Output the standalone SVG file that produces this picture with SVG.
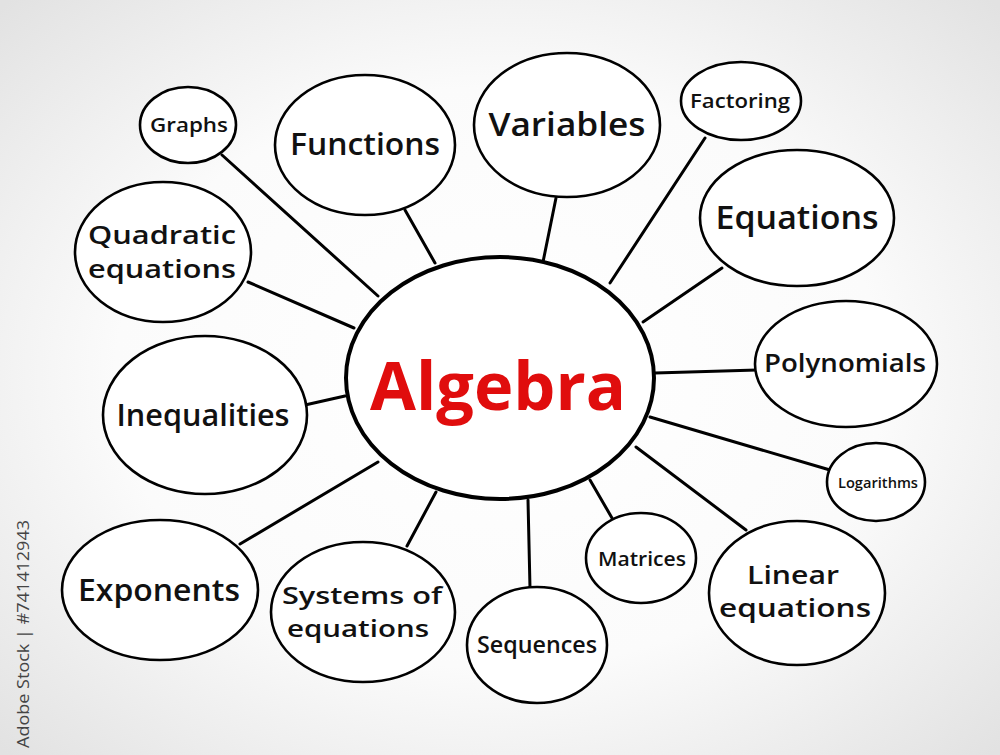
<svg xmlns="http://www.w3.org/2000/svg" width="1000" height="755" viewBox="0 0 1000 755">
<defs>
<radialGradient id="bg" cx="50%" cy="50%" r="70%">
<stop offset="0" stop-color="#ffffff"/>
<stop offset="0.55" stop-color="#fbfbfb"/>
<stop offset="1" stop-color="#e2e2e2"/>
</radialGradient>
<style>
.n ellipse{fill:#fff;stroke:#000;stroke-width:2.6}
.n text{font-family:"Open Sans","DejaVu Sans",sans-serif;font-weight:600;fill:#111;text-anchor:middle}
#connectors line{stroke:#000;stroke-width:3;stroke-linecap:round}
.wm{font-family:"Open Sans","DejaVu Sans",sans-serif;fill:#444;font-size:17px}
</style>
</defs>
<rect width="1000" height="755" fill="url(#bg)"/>
<text class="wm" transform="translate(29,748) rotate(-90)" textLength="228" lengthAdjust="spacingAndGlyphs">Adobe Stock | #741412943</text>
<g id="connectors">
<line x1="222" y1="155" x2="378" y2="296"/>
<line x1="405" y1="210" x2="435" y2="263"/>
<line x1="556" y1="198" x2="543" y2="262"/>
<line x1="705" y1="138" x2="610" y2="283"/>
<line x1="722" y1="268" x2="643" y2="322"/>
<line x1="757" y1="370" x2="655" y2="373"/>
<line x1="830" y1="470" x2="650" y2="417"/>
<line x1="746" y1="530" x2="636" y2="447"/>
<line x1="612" y1="518" x2="590" y2="480"/>
<line x1="530" y1="588" x2="528" y2="500"/>
<line x1="407" y1="546" x2="436" y2="492"/>
<line x1="240" y1="544" x2="378" y2="462"/>
<line x1="305" y1="405" x2="345" y2="396"/>
<line x1="248" y1="282" x2="354" y2="328"/>
</g>
<g id="algebra" class="n">
<ellipse cx="500" cy="378" rx="154" ry="121" style="stroke-width:4"/>
<text x="498" y="410" style="fill:#e00d0d;font-size:66px;font-weight:700" textLength="256" lengthAdjust="spacingAndGlyphs">Algebra</text>
</g>
<g id="graphs" class="n">
<ellipse cx="188" cy="125" rx="48" ry="38"/>
<text x="189" y="132" style="font-size:20px" textLength="78" lengthAdjust="spacingAndGlyphs">Graphs</text>
</g>
<g id="functions" class="n">
<ellipse cx="365" cy="145" rx="90" ry="70"/>
<text x="365" y="155" style="font-size:30px" textLength="150" lengthAdjust="spacingAndGlyphs">Functions</text>
</g>
<g id="variables" class="n">
<ellipse cx="567" cy="125" rx="93" ry="72"/>
<text x="567" y="136" style="font-size:32px" textLength="157" lengthAdjust="spacingAndGlyphs">Variables</text>
</g>
<g id="factoring" class="n">
<ellipse cx="741" cy="101" rx="60" ry="39"/>
<text x="740" y="108" style="font-size:20px" textLength="100" lengthAdjust="spacingAndGlyphs">Factoring</text>
</g>
<g id="equations" class="n">
<ellipse cx="797" cy="218" rx="97" ry="68"/>
<text x="797" y="229" style="font-size:32px" textLength="163" lengthAdjust="spacingAndGlyphs">Equations</text>
</g>
<g id="polynomials" class="n">
<ellipse cx="846" cy="364" rx="91" ry="63"/>
<text x="845" y="372" style="font-size:25px" textLength="162" lengthAdjust="spacingAndGlyphs">Polynomials</text>
</g>
<g id="logarithms" class="n">
<ellipse cx="876" cy="482" rx="49" ry="39"/>
<text x="878" y="488" style="font-size:15px" textLength="80" lengthAdjust="spacingAndGlyphs">Logarithms</text>
</g>
<g id="linear" class="n">
<ellipse cx="797" cy="593" rx="88" ry="72"/>
<text x="793" y="584" style="font-size:25px" textLength="92" lengthAdjust="spacingAndGlyphs">Linear</text>
<text x="795" y="617" style="font-size:25px" textLength="152" lengthAdjust="spacingAndGlyphs">equations</text>
</g>
<g id="matrices" class="n">
<ellipse cx="641" cy="558" rx="55" ry="45"/>
<text x="642" y="566" style="font-size:20px" textLength="88" lengthAdjust="spacingAndGlyphs">Matrices</text>
</g>
<g id="sequences" class="n">
<ellipse cx="537" cy="645" rx="70" ry="58"/>
<text x="537" y="653" style="font-size:23px" textLength="120" lengthAdjust="spacingAndGlyphs">Sequences</text>
</g>
<g id="systems" class="n">
<ellipse cx="363" cy="612" rx="92" ry="70"/>
<text x="362" y="604" style="font-size:24px" textLength="160" lengthAdjust="spacingAndGlyphs">Systems of</text>
<text x="358" y="637" style="font-size:24px" textLength="142" lengthAdjust="spacingAndGlyphs">equations</text>
</g>
<g id="exponents" class="n">
<ellipse cx="160" cy="590" rx="98" ry="70"/>
<text x="159" y="601" style="font-size:30px" textLength="162" lengthAdjust="spacingAndGlyphs">Exponents</text>
</g>
<g id="inequalities" class="n">
<ellipse cx="205" cy="415" rx="102" ry="79"/>
<text x="203" y="426" style="font-size:30px" textLength="173" lengthAdjust="spacingAndGlyphs">Inequalities</text>
</g>
<g id="quadratic" class="n">
<ellipse cx="163" cy="252" rx="88" ry="70"/>
<text x="162" y="244" style="font-size:25px" textLength="148" lengthAdjust="spacingAndGlyphs">Quadratic</text>
<text x="162" y="278" style="font-size:25px" textLength="148" lengthAdjust="spacingAndGlyphs">equations</text>
</g>
</svg>
